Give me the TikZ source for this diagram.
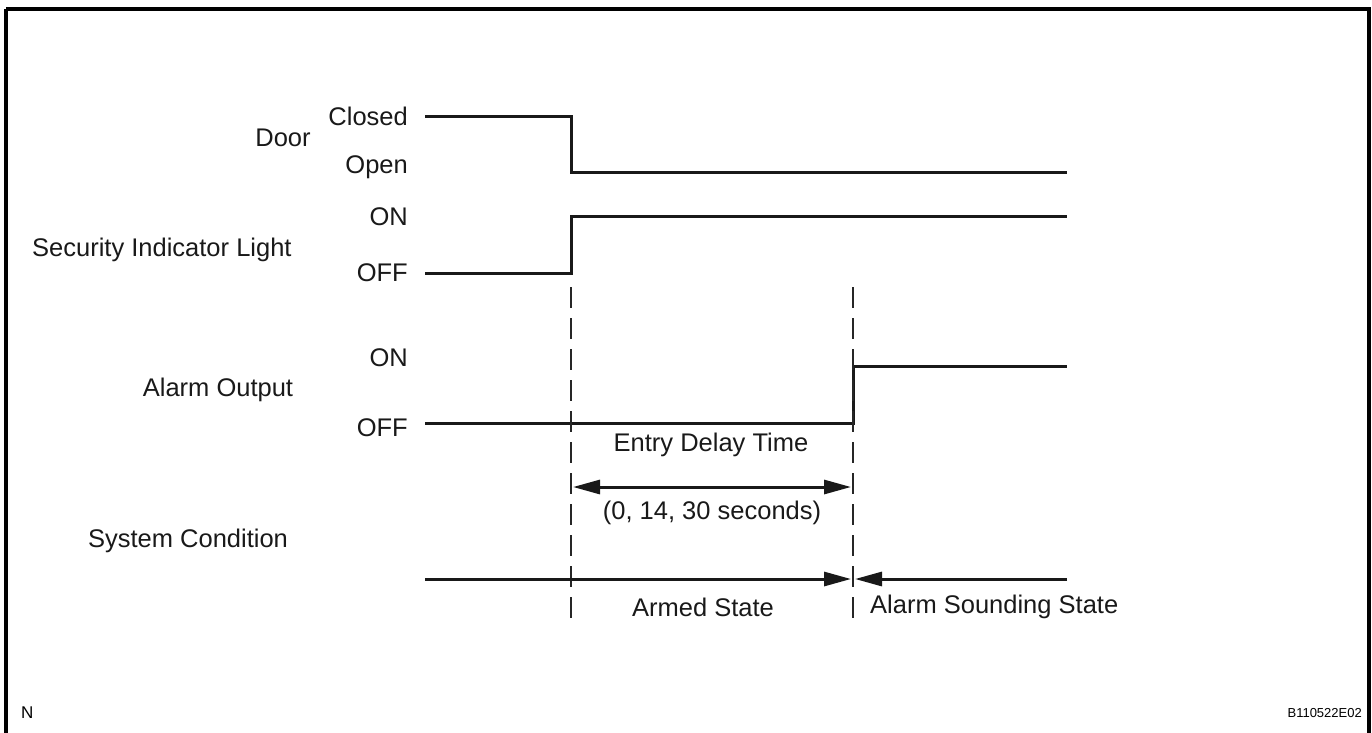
\documentclass[tikz,border=0pt]{standalone}
\usepackage{fontspec}
\setmainfont{Liberation Sans}
\usetikzlibrary{arrows.meta}
\begin{document}
\begin{tikzpicture}[x=1pt,y=-1pt,
  lbl/.style={font=\fontsize{25.5}{30}\selectfont, inner sep=0pt, text=black!90},
  wave/.style={line width=3pt, line join=miter, black!90},
  guide/.style={line width=2pt, black!85, dash pattern=on 21pt off 10pt},
  tip/.style={-{Triangle[length=27pt,width=14pt]}},
  frame/.style={line width=3.5pt, black}]
\useasboundingbox (0,0) rectangle (1372,732);
\draw[frame] (6,9) -- (1369,9) -- (1369,760) (6,9) -- (6,760);
% labels
\node[lbl] (door) at (283,138) {Door};
\node[lbl, anchor=east] (closed) at (408,116) {Closed};
\node[lbl, anchor=east] (open) at (408,167) {Open};
\node[lbl, anchor=west] (sil) at (32,250) {Security Indicator Light};
\node[lbl, anchor=east] (on1) at (408,217) {ON};
\node[lbl, anchor=east] (off1) at (408,273) {OFF};
\node[lbl] (alarm) at (218,390) {Alarm Output};
\node[lbl, anchor=east] (on2) at (408,358) {ON};
\node[lbl, anchor=east] (off2) at (408,428) {OFF};
\node[lbl] (sys) at (188,541) {System Condition};
\node[lbl] (edt) at (711,445) {Entry Delay Time};
\node[lbl] (secs) at (712,513) {(0, 14, 30 seconds)};
\node[lbl] (armed) at (703,607) {Armed State};
\node[lbl, anchor=west] (sound) at (870,607) {Alarm Sounding State};
\node[font=\fontsize{17}{20}\selectfont, inner sep=0pt, anchor=west] (n) at (21,713) {N};
\node[font=\fontsize{13}{15}\selectfont, inner sep=0pt, anchor=east] (code) at (1362,713) {B110522E02};
% waves
\draw[wave] (425,116) coordinate (d0) -- (571,116) -- (571,172) coordinate (d1) -- (1067,172);
\draw[wave] (425,273) coordinate (s0) -- (571,273) -- (571,216) coordinate (s1) -- (1067,216);
\draw[wave] (425,423) coordinate (a0) -- (853,423) -- (853,366) coordinate (a1) -- (1067,366);
% guides
\draw[guide] (571,287) coordinate (g1top) -- (571,625) coordinate (g1bot);
\draw[guide] (853,287) coordinate (g2top) -- (853,625) coordinate (g2bot);
% arrows
\draw[wave, {Triangle[length=27pt,width=14pt]}-{Triangle[length=27pt,width=14pt]}] (573,487) coordinate (e0) -- (851,487) coordinate (e1);
\draw[wave, tip] (425,579) coordinate (c0) -- (851,579) coordinate (c1);
\draw[wave, tip] (1067,579) coordinate (c3) -- (855,579) coordinate (c2);
\end{tikzpicture}
\end{document}
